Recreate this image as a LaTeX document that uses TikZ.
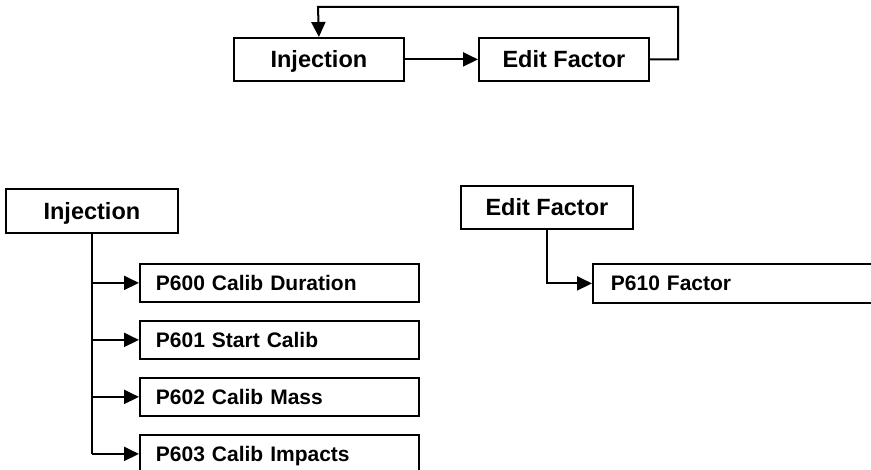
\documentclass[tikz,border=0pt]{standalone}
\usepackage{fontspec}
\setmainfont{Liberation Sans}
\usetikzlibrary{arrows.meta,calc}
\begin{document}
\begin{tikzpicture}[x=1pt,y=-1pt,
  parent/.style={draw,line width=1.8pt,anchor=north west,minimum height=43pt,
    font=\bfseries\fontsize{23.5}{28}\selectfont,inner sep=0pt,
    text height=16.8pt,text depth=0pt},
  child/.style={draw,line width=1.8pt,anchor=north west,minimum height=38pt,
    font=\bfseries\fontsize{21}{25}\selectfont,align=left,inner ysep=0pt,
    text height=15pt,text depth=0pt},
  conn/.style={line width=2pt},
  arr/.style={conn,-{Triangle[length=15pt,width=14pt]}}]
\useasboundingbox (0,0) rectangle (871,470);
\clip (0,0) rectangle (871,470);
% top flow
\node[parent,minimum width=170pt] (inj) at (233,37) {Injection};
\node[parent,minimum width=170pt] (ef) at (478,37) {Edit Factor};
\draw[arr] (inj.east) -- (ef.west);
\coordinate (fbr) at (678,7);
\coordinate (fbl) at (318,7);
\draw[arr] (ef.east) -| (fbr) -- (fbl) -- (inj.north);
% bottom left tree
\node[parent,minimum width=172pt,minimum height=44pt] (binj) at (5,188) {Injection};
\node[child,text width=247pt,inner xsep=16pt] (p600) at (139,263) {P600 Calib Duration};
\node[child,text width=247pt,inner xsep=16pt] (p601) at (139,320) {P601 Start Calib};
\node[child,text width=247pt,inner xsep=16pt] (p602) at (139,377) {P602 Calib Mass};
\node[child,text width=247pt,inner xsep=16pt] (p603) at (139,434) {P603 Calib Impacts};
\draw[conn] (binj.south) -- (binj.south |- p603.west);
\foreach \c in {p600,p601,p602,p603}
  \draw[arr] (binj.south |- \c.west) -- (\c.west);
% bottom right tree
\node[parent,minimum width=172pt] (bef) at (460,185) {Edit Factor};
\node[child,text width=264pt,inner xsep=18pt,minimum height=39pt] (p610) at (592,263) {P610 Factor};
\draw[arr] (bef.south) |- (p610.west);
\end{tikzpicture}
\end{document}
